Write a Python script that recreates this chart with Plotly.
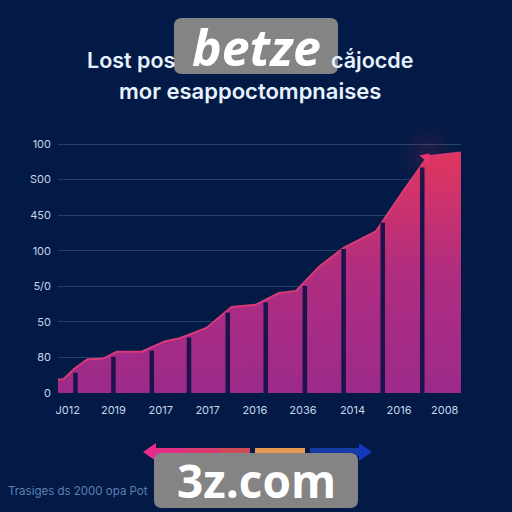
import plotly.graph_objects as go

# top edge of the area, x in bar widths from the left edge, y in tick steps
line_x = [0, 0.14, 0.42, 0.76, 1.15, 1.52, 2.16, 2.75, 3.14, 3.83, 4.48, 5.1,
          5.7, 6.14, 6.75, 7.38, 8.2, 8.9, 9.55, 10.4]
line_y = [0.38, 0.39, 0.68, 0.95, 0.96, 1.16, 1.16, 1.45, 1.54, 1.83, 2.42, 2.48,
          2.81, 2.87, 3.56, 4.09, 4.54, 5.66, 6.66, 6.76]

gap_x = [0.45, 1.43, 2.42, 3.38, 4.38, 5.36, 6.37, 7.37, 8.38, 9.4]
gap_top = [0.57, 1.02, 1.19, 1.56, 2.26, 2.55, 3.01, 4.05, 4.79, 6.34]

y_ticks = [0, 1, 2, 3, 4, 5, 6, 7]
y_labels = ["0", "80", "50", "5/0", "100", "450", "S00", "100"]

x_ticks = [0.25, 1.43, 2.65, 3.86, 5.08, 6.32, 7.6, 8.8, 9.98]
x_labels = ["J012", "2019", "2017", "2017", "2016", "2036", "2014", "2016", "2008"]

BG = "#021a45"
L, R, T, B = 58, 51, 128, 119
PW, PH = 512 - L - R, 512 - T - B


# page pixels to paper fractions of the plot area
def px(v):
    return (v - L) / PW


def py(v):
    return (512 - B - v) / PH


fig = go.Figure()

fig.add_trace(go.Scatter(
    x=line_x, y=line_y, mode="lines", line=dict(color="#d93a78", width=2),
    fill="tozeroy",
    fillgradient=dict(type="vertical",
                      colorscale=[[0, "#9c2a8a"], [0.5, "#b02d80"], [1, "#e0365f"]]),
    hoverinfo="skip",
))

# dark slots between the bars
slot_x, slot_y = [], []
for x, top in zip(gap_x, gap_top):
    slot_x += [x, x, None]
    slot_y += [0, top, None]
fig.add_trace(go.Scatter(x=slot_x, y=slot_y, mode="lines",
                         line=dict(color="#1b1349", width=4.5), hoverinfo="skip"))

# glow and arrow tip on the last rise
for size, alpha in [(60, 0.03), (42, 0.04), (26, 0.06)]:
    fig.add_trace(go.Scatter(x=[9.55], y=[6.7], mode="markers",
                             marker=dict(size=size, color=f"rgba(224,54,95,{alpha})"),
                             hoverinfo="skip"))
fig.add_trace(go.Scatter(x=[9.5], y=[6.62], mode="markers",
                         marker=dict(symbol="triangle-up", size=11, angle=40, color="#e8346f"),
                         hoverinfo="skip"))


def box(x0, y0, x1, y1, r=8):
    return (f"M{px(x0 + r)},{py(y0)} L{px(x1 - r)},{py(y0)} Q{px(x1)},{py(y0)} {px(x1)},{py(y0 + r)} "
            f"L{px(x1)},{py(y1 - r)} Q{px(x1)},{py(y1)} {px(x1 - r)},{py(y1)} "
            f"L{px(x0 + r)},{py(y1)} Q{px(x0)},{py(y1)} {px(x0)},{py(y1 - r)} "
            f"L{px(x0)},{py(y0 + r)} Q{px(x0)},{py(y0)} {px(x0 + r)},{py(y0)} Z")


def strip(x0, x1, y0, y1, color):
    return dict(type="rect", xref="paper", yref="paper", x0=px(x0), x1=px(x1),
                y0=py(y1), y1=py(y0), fillcolor=color, line_width=0)


def tri(xa, xb, yc, h, color):
    return dict(type="path", xref="paper", yref="paper",
                path=f"M{px(xa)},{py(yc)} L{px(xb)},{py(yc - h)} L{px(xb)},{py(yc + h)} Z",
                fillcolor=color, line_width=0)


shapes = [
    strip(152, 185, 448, 456, "#e22f86"),
    strip(185, 220, 448, 456, "#d93a70"),
    strip(220, 250, 448, 456, "#cf4a55"),
    strip(255, 305, 448, 456, "#e59a50"),
    strip(310, 362, 448, 456, "#163aa8"),
    tri(143, 156, 452, 9, "#e82c8c"),
    tri(372, 359, 452, 9, "#1438bc"),
    dict(type="path", xref="paper", yref="paper", path=box(174, 18, 338, 74),
         fillcolor="#848484", line_width=0),
    dict(type="path", xref="paper", yref="paper", path=box(154, 453, 358, 508),
         fillcolor="#848484", line_width=0),
]

title_font = dict(family="Inter", size=22, color="#e8f2ff", weight=600)
line1_font = dict(family="Inter", size=21.5, color="#e8f2ff", weight=600)
notes = [
    dict(text="Lost pos", x=px(85), y=py(60), xanchor="left", font=line1_font),
    dict(text="cắjocde", x=px(415), y=py(60), xanchor="right", font=line1_font),
    dict(text="mor esappoctompnaises", x=px(250), y=py(91), xanchor="center", font=title_font),
    dict(text="Trasiges ds 2000 opa Pot", x=px(6), y=py(491), xanchor="left",
         font=dict(family="Inter", size=11.5, color="#5f80b2")),
    dict(text="<b><i>betze</i></b>", x=px(256), y=py(47), xanchor="center",
         font=dict(family="Open Sans", size=50, color="#ffffff")),
    dict(text="<b>3z.com</b>", x=px(256), y=py(480), xanchor="center",
         font=dict(family="Open Sans", size=46, color="#ffffff")),
]
for n in notes:
    n.update(xref="paper", yref="paper", yanchor="middle", showarrow=False)

fig.update_layout(
    width=512, height=512, showlegend=False,
    margin=dict(l=L, r=R, t=T, b=B),
    paper_bgcolor=BG, plot_bgcolor=BG,
    shapes=shapes, annotations=notes,
    xaxis=dict(range=[0, 10.4], tickvals=x_ticks, ticktext=x_labels, showgrid=False,
               zeroline=False, showline=False, ticks="", ticklabelstandoff=9,
               tickfont=dict(family="Inter", size=11, color="#c8d6ea")),
    yaxis=dict(range=[0, 7.45], tickvals=y_ticks, ticktext=y_labels,
               gridcolor="#24406b", gridwidth=1, zeroline=False, showline=False, ticks="",
               ticklabelstandoff=6,
               tickfont=dict(family="Inter", size=11, color="#c8d6ea")),
)

fig.write_html("out.html", config=dict(displayModeBar=False),
               post_script="document.body.style.margin='0';")
